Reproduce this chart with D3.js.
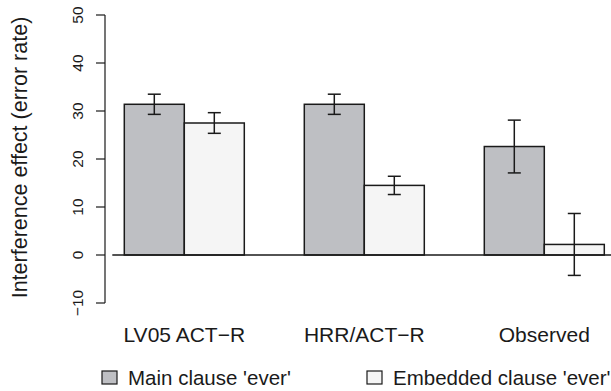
<!DOCTYPE html>
<html lang="en">
<head>
<meta charset="UTF-8">
<title>Interference effect bar chart</title>
<style>
    body { margin: 0; background: #fff; }
    text { font-family: "Liberation Sans", Arial, sans-serif; fill: #1a1a1a; }
</style>
</head>
<body>
<svg id="chart" width="611" height="391"></svg>
<script src="https://cdn.jsdelivr.net/npm/d3@7/dist/d3.min.js"></script>
<script>
// data
let models = ["LV05 ACT\u2212R", "HRR/ACT\u2212R", "Observed"]
let seriesNames = ["Main clause 'ever'", "Embedded clause 'ever'"]
let mainMeans = [31.4, 31.4, 22.6]
let mainErr = [2.1, 2.1, 5.5]
let embeddedMeans = [27.5, 14.5, 2.2]
let embeddedErr = [2.15, 1.9, 6.45]
let yTicks = [-10, 0, 10, 20, 30, 40, 50]

let colors = ["#bebfc3", "#f5f5f5"]
let ink = "#1a1a1a"

let svg = d3.select("#chart")

// R barplot style units: bars width 1, one unit gap between groups
let xScale = d3.scaleLinear().domain([0.68, 9.32]).range([105.1, 623.5])
let yScale = d3.scaleLinear().domain([-10, 50]).range([303, 15])

let bars = []
models.forEach((m, i) => {
    bars.push({ u: 1 + 3 * i, v: mainMeans[i], e: mainErr[i], s: 0 })
    bars.push({ u: 2 + 3 * i, v: embeddedMeans[i], e: embeddedErr[i], s: 1 })
})

svg.append("g").selectAll("rect")
    .data(bars)
    .join("rect")
    .attr("x", d => xScale(d.u))
    .attr("width", d => xScale(d.u + 1) - xScale(d.u))
    .attr("y", d => yScale(Math.max(d.v, 0)))
    .attr("height", d => Math.abs(yScale(d.v) - yScale(0)))
    .attr("fill", d => colors[d.s])
    .attr("stroke", ink)
    .attr("stroke-width", 1.5)

// zero line
svg.append("line")
    .attr("x1", xScale(0.8)).attr("x2", 611)
    .attr("y1", yScale(0)).attr("y2", yScale(0))
    .attr("stroke", ink).attr("stroke-width", 1.5)

// error bars
let capW = 6.5
let err = svg.append("g").attr("stroke", ink).attr("stroke-width", 1.5)
bars.forEach(d => {
    let cx = xScale(d.u + 0.5)
    let top = yScale(d.v + d.e), bot = yScale(d.v - d.e)
    err.append("line").attr("x1", cx).attr("x2", cx).attr("y1", top).attr("y2", bot)
    err.append("line").attr("x1", cx - capW).attr("x2", cx + capW).attr("y1", top).attr("y2", top)
    err.append("line").attr("x1", cx - capW).attr("x2", cx + capW).attr("y1", bot).attr("y2", bot)
})

// y axis, R style with rotated labels
let axis = svg.append("g")
axis.append("line")
    .attr("x1", 105).attr("x2", 105)
    .attr("y1", yScale(-10)).attr("y2", yScale(50))
    .attr("stroke", ink).attr("stroke-width", 1.2)
axis.selectAll(".tick")
    .data(yTicks)
    .join("line")
    .attr("x1", 96).attr("x2", 105)
    .attr("y1", d => yScale(d)).attr("y2", d => yScale(d))
    .attr("stroke", ink).attr("stroke-width", 1.2)
axis.selectAll("text")
    .data(yTicks)
    .join("text")
    .attr("transform", d => "translate(82.5," + yScale(d) + ") rotate(-90)")
    .attr("text-anchor", "middle")
    .style("font-size", "15.5px")
    .text(d => d < 0 ? "\u2212" + Math.abs(d) : d)

svg.append("text")
    .attr("transform", "translate(27,157.5) rotate(-90)")
    .attr("text-anchor", "middle")
    .style("font-size", "21.5px")
    .text("Interference effect (error rate)")

// group labels
svg.append("g").selectAll("text")
    .data(models)
    .join("text")
    .attr("x", (d, i) => xScale(2 + 3 * i))
    .attr("y", 342)
    .attr("text-anchor", "middle")
    .style("font-size", "21px")
    .text(d => d)

// legend
let legX = [102, 367]
let leg = svg.append("g").selectAll("g")
    .data(seriesNames)
    .join("g")
    .attr("transform", (d, i) => "translate(" + legX[i] + ",0)")
leg.append("rect")
    .attr("x", 0).attr("y", 371)
    .attr("width", 15).attr("height", 13)
    .attr("fill", (d, i) => colors[i])
    .attr("stroke", ink).attr("stroke-width", 1.2)
leg.append("text")
    .attr("x", 26).attr("y", 385)
    .style("font-size", "20.5px")
    .text(d => d)
</script>
</body>
</html>
